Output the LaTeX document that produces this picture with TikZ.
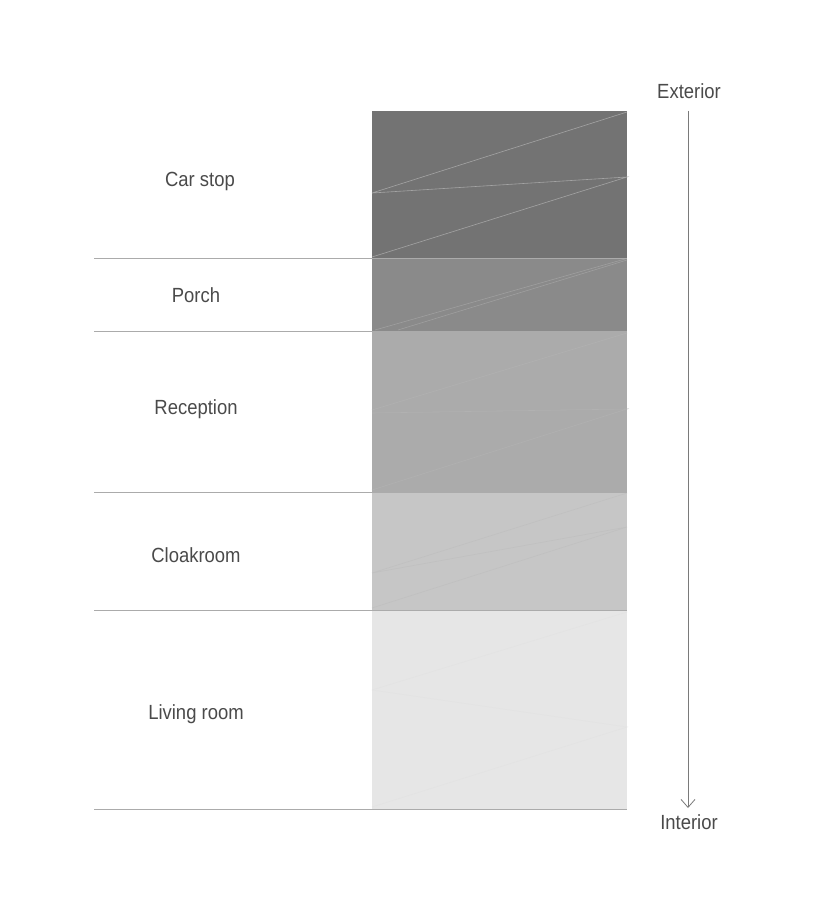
\documentclass[tikz,border=0pt]{standalone}
\usepackage{fontspec}
\setmainfont[FakeStretch=0.9]{Liberation Sans}
\usetikzlibrary{arrows.meta}
\definecolor{txt}{HTML}{4A4A4A}
\definecolor{sep}{HTML}{ABABAB}
\definecolor{arr}{HTML}{7A7A7A}
\definecolor{zA}{HTML}{737373}
\definecolor{zB}{HTML}{8A8A8A}
\definecolor{zC}{HTML}{ABABAB}
\definecolor{zD}{HTML}{C6C6C6}
\definecolor{zE}{HTML}{E6E6E6}
\tikzset{
  lbl/.style={font=\fontsize{20.5}{23}\selectfont, text=txt, inner sep=0pt, anchor=center},
  sepline/.style={draw=sep, line width=0.9pt},
  seam/.style={line width=0.6pt},
  flow/.style={draw=arr, line width=0.8pt, -{Straight Barb[length=8pt,width=14pt,line width=0.8pt]}}
}
\begin{document}
\begin{tikzpicture}[x=1pt,y=-1pt]
\useasboundingbox (0,0) rectangle (822,912);
\fill[white] (0,0) rectangle (822,912);
% zones
\fill[zA] (372,111) rectangle (627,258);
\fill[zB] (372,258) rectangle (627,331);
\fill[zC] (372,331) rectangle (627,492);
\fill[zD] (372,492) rectangle (627,610);
\fill[zE] (372,610) rectangle (627,809);
% faint seams
\draw[seam, color=white!35!zA] (372,193) -- (627,112) (372,193) -- (627,177) -- (372,257);
\draw[seam, color=white!18!zB] (375,330) -- (625,259) (398,330) -- (627,260);
\draw[seam, color=white!7!zC] (372,410) -- (627,333) (372,413) -- (627,409) -- (372,490);
\draw[seam, color=black!3!zD] (372,573) -- (627,493) (372,573) -- (627,527) -- (372,608);
\draw[seam, color=black!1.5!zE] (372,690) -- (627,612) (372,690) -- (627,727) -- (372,807);
% separators
\draw[sepline] (94,258) -- (627,258);
\draw[sepline] (94,331) -- (627,331);
\draw[sepline] (94,492) -- (627,492);
\draw[sepline] (94,610) -- (627,610);
\draw[sepline] (94,809) -- (627,809);
% labels
\node[lbl] (carstop) at (200,181) {Car stop};
\node[lbl] (porch) at (196,295) {Porch};
\node[lbl] (reception) at (196,409) {Reception};
\node[lbl] (cloakroom) at (196,555) {Cloakroom};
\node[lbl] (living) at (196,714) {Living room};
% axis
\node[lbl] (exterior) at (689,91) {Exterior};
\node[lbl] (interior) at (689,822) {Interior};
\coordinate (atop) at (688,111);
\coordinate (abot) at (688,808);
\draw[flow] (atop) -- (abot);
\end{tikzpicture}
\end{document}
